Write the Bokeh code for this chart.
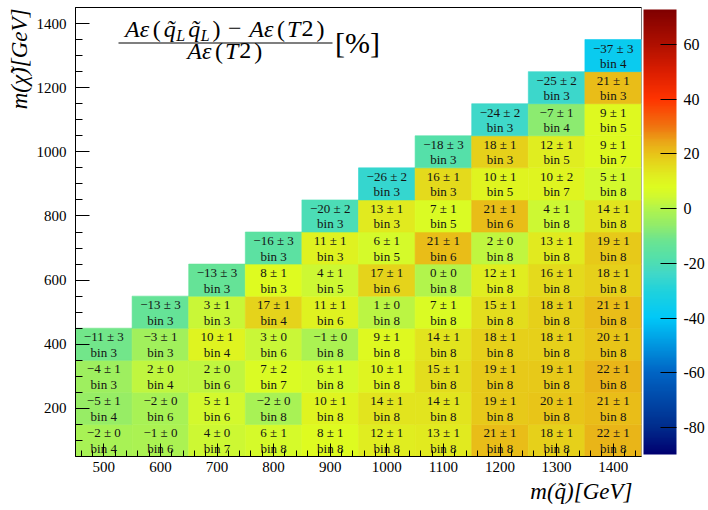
import numpy as np
from bokeh.plotting import figure
from bokeh.models import (ColumnDataSource, LinearColorMapper, ColorBar, FixedTicker,
                          Label, BoxAnnotation, Range1d, Title)
from bokeh.core.properties import value
from bokeh.embed import file_html
from bokeh.resources import INLINE

# ---------------- data (one entry per filled cell, row by row from bottom) -------------
squark_mass = [500, 600, 700, 800, 900, 1000, 1100, 1200, 1300, 1400,   # m(chi)=100
               500, 600, 700, 800, 900, 1000, 1100, 1200, 1300, 1400,   # 200
               500, 600, 700, 800, 900, 1000, 1100, 1200, 1300, 1400,   # 300
               500, 600, 700, 800, 900, 1000, 1100, 1200, 1300, 1400,   # 400
               600, 700, 800, 900, 1000, 1100, 1200, 1300, 1400,        # 500
               700, 800, 900, 1000, 1100, 1200, 1300, 1400,             # 600
               800, 900, 1000, 1100, 1200, 1300, 1400,                  # 700
               900, 1000, 1100, 1200, 1300, 1400,                       # 800
               1000, 1100, 1200, 1300, 1400,                            # 900
               1100, 1200, 1300, 1400,                                  # 1000
               1200, 1300, 1400,                                        # 1100
               1300, 1400,                                              # 1200
               1400]                                                    # 1300
chi_mass = ([100] * 10 + [200] * 10 + [300] * 10 + [400] * 10 + [500] * 9 + [600] * 8 +
            [700] * 7 + [800] * 6 + [900] * 5 + [1000] * 4 + [1100] * 3 + [1200] * 2 + [1300])
rel_diff = [-2, -1, 4, 6, 8, 12, 13, 21, 18, 22,
            -5, -2, 5, -2, 10, 14, 14, 19, 20, 21,
            -4, 2, 2, 7, 6, 10, 15, 19, 19, 22,
            -11, -3, 10, 3, -1, 9, 14, 18, 18, 20,
            -13, 3, 17, 11, 1, 7, 15, 18, 21,
            -13, 8, 4, 17, 0, 12, 16, 18,
            -16, 11, 6, 21, 2, 13, 19,
            -20, 13, 7, 21, 4, 14,
            -26, 16, 10, 10, 5,
            -18, 18, 12, 9,
            -24, -7, 9,
            -25, 21,
            -37]
rel_err = [0, 0, 0, 1, 1, 1, 1, 1, 1, 1,
           1, 0, 1, 0, 1, 1, 1, 1, 1, 1,
           1, 0, 0, 2, 1, 1, 1, 1, 1, 1,
           3, 1, 1, 0, 0, 1, 1, 1, 1, 1,
           3, 1, 1, 1, 0, 1, 1, 1, 1,
           3, 1, 1, 1, 0, 1, 1, 1,
           3, 1, 1, 1, 0, 1, 1,
           2, 1, 1, 1, 1, 1,
           2, 1, 1, 2, 1,
           3, 1, 1, 1,
           2, 1, 1,
           2, 1,
           3]
best_bin = [4, 6, 7, 8, 8, 8, 8, 8, 8, 8,
            4, 6, 6, 8, 8, 8, 8, 8, 8, 8,
            3, 4, 6, 7, 8, 8, 8, 8, 8, 8,
            3, 3, 4, 6, 8, 8, 8, 8, 8, 8,
            3, 3, 4, 6, 8, 8, 8, 8, 8,
            3, 3, 5, 6, 8, 8, 8, 8,
            3, 3, 5, 6, 8, 8, 8,
            3, 3, 5, 6, 8, 8,
            3, 3, 5, 7, 8,
            3, 3, 5, 7,
            3, 4, 5,
            3, 3,
            4]

x_ticks = [500, 600, 700, 800, 900, 1000, 1100, 1200, 1300, 1400]
y_ticks = [200, 400, 600, 800, 1000, 1200, 1400]
z_ticks = [-80, -60, -40, -20, 0, 20, 40, 60]
z_low, z_high = -89.8, 72.7
x_title = "m(q\u0303)[GeV]"
y_title = "m(\u03c7\u0303)[GeV]"

# ---------------- colour map (rainbow-like palette of the reference) -----------------
stops = [(-89.8, "#000070"), (-80, "#002c8c"), (-60, "#0064c4"), (-50, "#0096e0"),
         (-40, "#00c8f8"), (-30, "#20d2dc"), (-24, "#40d8c8"), (-18, "#54e0aa"),
         (-12, "#6ae492"), (-6, "#92ec6a"), (0, "#b2f44c"), (4, "#cef832"),
         (8, "#defc20"), (12, "#e0ee20"), (16, "#e4da1c"), (20, "#e8c418"),
         (24, "#eaaa18"), (30, "#f07410"), (40, "#ff3400"), (50, "#dc1e00"),
         (60, "#b01000"), (72.7, "#800000")]
sv = np.array([s[0] for s in stops])
rgb = np.array([[int(s[1][i:i + 2], 16) for i in (1, 3, 5)] for s in stops], dtype=float)
grid = np.linspace(z_low, z_high, 256)
palette = ["#%02x%02x%02x" % tuple(int(round(np.interp(g, sv, rgb[:, c]))) for c in range(3))
           for g in grid]
mapper = LinearColorMapper(palette=palette, low=z_low, high=z_high)


def fmt(n):
    return str(n).replace("-", "\u2212")


src = ColumnDataSource(dict(
    sq=squark_mass, chi=chi_mass, diff=rel_diff,
    top=[f"{fmt(d)} \u00b1 {e}" for d, e in zip(rel_diff, rel_err)],
    bot=[f"bin {b}" for b in best_bin],
))

# ---------------- figure -----------------------------------------------------------
FL, FR, FT, FB = 75, 641, 7, 456
X0, X1, Y0, Y1 = 450, 1450, 50, 1450

p = figure(frame_width=FR - FL, frame_height=FB - FT,
           x_range=Range1d(X0, X1), y_range=Range1d(Y0, Y1),
           output_backend="svg", toolbar_location=None,
           min_border_left=FL, min_border_right=708 - FR, min_border_top=FT,
           min_border_bottom=510 - FB)
p.xgrid.visible = False
p.ygrid.visible = False
p.outline_line_color = "black"
p.outline_line_width = 1
p.background_fill_color = "white"
p.border_fill_color = "white"

p.rect(x="sq", y="chi", width=100, height=100, source=src,
       fill_color={"field": "diff", "transform": mapper},
       line_color={"field": "diff", "transform": mapper}, line_width=0.6)

SERIF = "Liberation Serif"
p.text(x="sq", y="chi", text="top", source=src, text_font=value(SERIF),
       text_font_size="13px", text_align="center", text_baseline="middle",
       y_offset=-7.5, text_color="#141414")
p.text(x="sq", y="chi", text="bot", source=src, text_font=value(SERIF),
       text_font_size="13px", text_align="center", text_baseline="middle",
       y_offset=8, text_color="#141414")

# axes
p.xaxis.ticker = FixedTicker(ticks=x_ticks, minor_ticks=list(range(460, 1450, 20)))
p.yaxis.ticker = FixedTicker(ticks=y_ticks, minor_ticks=list(range(100, 1451, 50)))
for ax in (p.xaxis[0], p.yaxis[0]):
    ax.axis_line_color = "black"
    ax.major_tick_line_color = "black"
    ax.minor_tick_line_color = "black"
    ax.major_tick_out = 0
    ax.minor_tick_out = 0
    ax.major_label_text_font = SERIF
    ax.major_label_text_font_size = "15px"
    ax.major_label_text_color = "black"
p.xaxis.major_tick_in = 13
p.xaxis.minor_tick_in = 6
p.xaxis.major_label_standoff = 5
p.yaxis.major_tick_in = 14
p.yaxis.minor_tick_in = 7
p.yaxis.major_label_standoff = 9

# axis titles at the far ends of the axes, as in the reference
p.add_layout(Title(text=x_title, align="right", offset=9, standoff=5, text_font=SERIF,
                   text_font_size="23px", text_font_style="italic",
                   text_color="black"), "below")
p.add_layout(Title(text=y_title, align="right", offset=1, standoff=3, text_font=SERIF,
                   text_font_size="23px", text_font_style="italic",
                   text_color="black"), "left")

# colour bar
cb = ColorBar(color_mapper=mapper, ticker=FixedTicker(ticks=z_ticks), width=33,
              padding=2, margin=0, label_standoff=7,
              major_tick_in=16, major_tick_out=0, major_tick_line_color="black",
              minor_tick_line_color=None, bar_line_color=None, border_line_color=None,
              major_label_text_font=SERIF, major_label_text_font_size="16px",
              major_label_text_color="black",
              major_label_overrides={t: str(t) for t in z_ticks})
p.add_layout(cb, "right")


# ---------------- title formula (annotations placed in pixel terms) ------------------
def dx(px):
    return X0 + (px - FL) * (X1 - X0) / (FR - FL)


def dy(py):
    return Y0 + (FB - py) * (Y1 - Y0) / (FB - FT)


pieces = [  # text, centre px, middle px, size, style
    ("A\u03b5", 136.6, 28, 24, "italic"), ("(", 156.3, 28, 24, "normal"),
    ("q\u0303", 169.3, 28, 24, "italic"), ("L", 180.2, 34.5, 16, "italic"),
    ("q\u0303", 193.7, 28, 24, "italic"), ("L", 204.6, 34.5, 16, "italic"),
    (")", 216.1, 28, 24, "normal"), ("\u2212", 234.2, 28, 24, "normal"),
    ("A\u03b5", 260.9, 28, 24, "italic"), ("(", 280.6, 28, 24, "normal"),
    ("T", 293.2, 28, 24, "italic"), ("2", 306.9, 28, 24, "normal"),
    (")", 319.9, 28, 24, "normal"),
    ("A\u03b5", 198.9, 50, 24, "italic"), ("(", 218.5, 50, 24, "normal"),
    ("T", 231.2, 50, 24, "italic"), ("2", 244.8, 50, 24, "normal"),
    (")", 257.8, 50, 24, "normal"),
]
for txt, cx, my, fs, st in pieces:
    p.add_layout(Label(x=dx(cx), y=dy(my), text=txt, text_font=SERIF,
                       text_font_size=f"{fs}px", text_font_style=st, text_color="black",
                       text_align="center", text_baseline="middle"))
p.add_layout(BoxAnnotation(left=dx(118), right=dx(332), bottom=dy(43), top=dy(42),
                           fill_color="black", fill_alpha=1, line_color=None))
p.add_layout(Label(x=dx(357), y=dy(42), text="[%]", text_font=SERIF, text_font_size="30px",
                   text_color="black", text_align="center", text_baseline="middle"))

open("out.html", "w").write(file_html(p, INLINE))
